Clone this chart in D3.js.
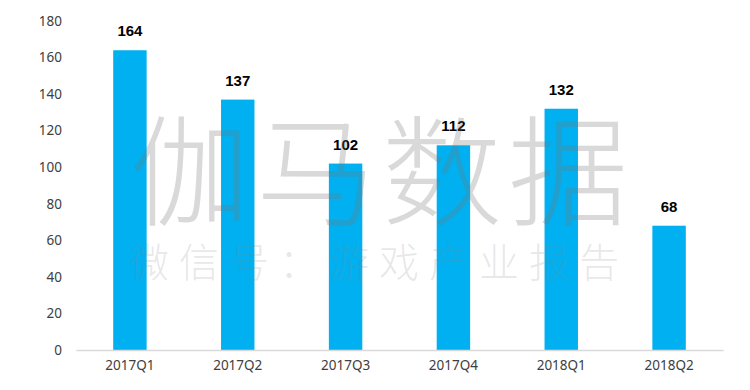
<!DOCTYPE html>
<html>
<head>
<meta charset="utf-8">
<script src="https://cdn.jsdelivr.net/npm/d3@7"></script>
<style>
  html, body { margin: 0; padding: 0; background: #fff; }
  svg { display: block; }
</style>
</head>
<body>
<svg id="chart" width="750" height="390"></svg>
<script>
// ----- data -----
const quarters = ['2017Q1', '2017Q2', '2017Q3', '2017Q4', '2018Q1', '2018Q2'];
const values = [164, 137, 102, 112, 132, 68];
const yTicks = [0, 20, 40, 60, 80, 100, 120, 140, 160, 180];

// ----- layout -----
const plotLeft = 76, plotRight = 723, plotTop = 21, plotBottom = 350;

const svg = d3.select('#chart');

const x = d3.scaleBand()
  .domain(quarters)
  .range([plotLeft, plotRight])
  .paddingInner(0.69)
  .paddingOuter(0.345);

const y = d3.scaleLinear().domain([0, 180]).range([plotBottom, plotTop]);

// y axis labels (no line, no ticks)
const yAxis = d3.axisLeft(y).tickValues(yTicks).tickSize(0).tickPadding(0);
svg.append('g')
  .attr('transform', `translate(${plotLeft - 14},0)`)
  .call(yAxis)
  .call(g => g.select('.domain').remove())
  .call(g => g.selectAll('text')
    .attr('fill', '#404040')
    .style('font-family', '"Noto Sans", "Open Sans", sans-serif')
    .style('font-size', '13.5px'));

// bars
svg.append('g')
  .selectAll('rect')
  .data(values)
  .join('rect')
  .attr('x', (d, i) => x(quarters[i]))
  .attr('y', d => y(d))
  .attr('width', x.bandwidth())
  .attr('height', d => plotBottom - y(d))
  .attr('fill', '#00b0f0');

// x axis
const xAxis = d3.axisBottom(x).tickSize(0).tickPadding(10);
svg.append('g')
  .attr('transform', `translate(0,${plotBottom})`)
  .call(xAxis)
  .call(g => g.select('.domain').attr('stroke', '#d9d9d9').attr('stroke-width', 1.5))
  .call(g => g.selectAll('text')
    .attr('fill', '#404040')
    .style('font-family', '"Noto Sans", "Open Sans", sans-serif')
    .style('font-size', '13.5px'));

// value labels
svg.append('g')
  .selectAll('text')
  .data(values)
  .join('text')
  .attr('x', (d, i) => x(quarters[i]) + x.bandwidth() / 2)
  .attr('y', d => y(d) - 14)
  .attr('text-anchor', 'middle')
  .attr('fill', '#000')
  .style('font-family', '"Liberation Sans", Arial, sans-serif')
  .style('font-weight', 'bold')
  .style('font-size', '15px')
  .text(d => d);

// watermark on top of bars
const wm = svg.append('g').attr('pointer-events', 'none');
wm.append('text')
  .attr('x', 382)
  .attr('y', 217)
  .attr('text-anchor', 'middle')
  .attr('fill', '#777')
  .attr('fill-opacity', 0.28)
  .style('font-family', '"Noto Sans CJK SC", sans-serif')
  .style('font-weight', 300)
  .style('font-size', '120px')
  .style('letter-spacing', '6px')
  .text('伽马数据');

wm.append('text')
  .attr('x', 379)
  .attr('y', 277)
  .attr('text-anchor', 'middle')
  .attr('fill', '#888')
  .attr('fill-opacity', 0.2)
  .style('font-family', '"Noto Sans CJK SC", sans-serif')
  .style('font-weight', 300)
  .style('font-size', '40px')
  .style('letter-spacing', '10px')
  .text('微信号：游戏产业报告');
</script>
</body>
</html>
